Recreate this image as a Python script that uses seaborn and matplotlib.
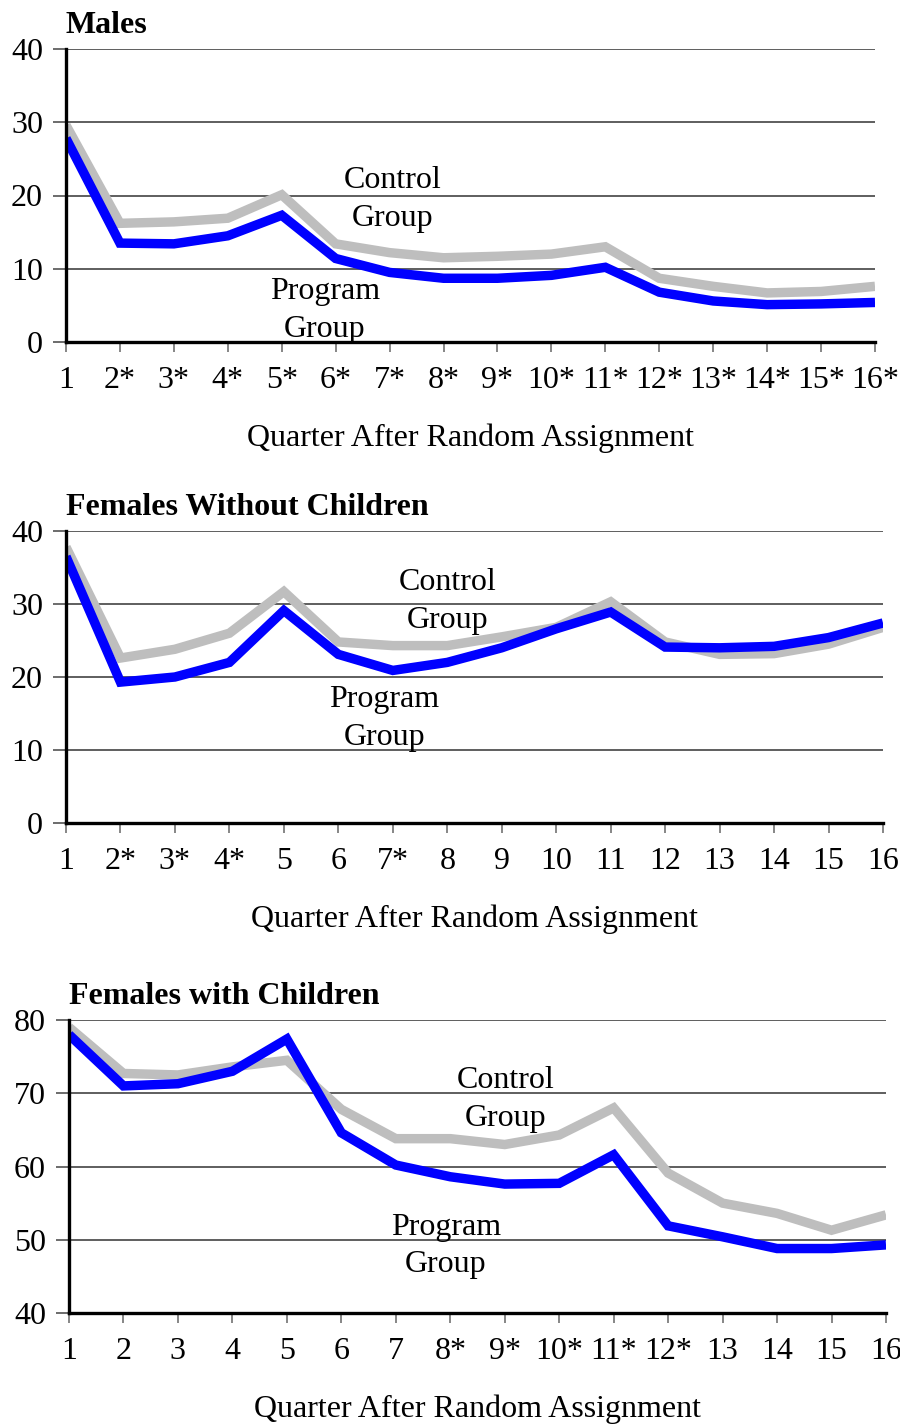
import matplotlib
matplotlib.use("Agg")
import matplotlib.pyplot as plt
import seaborn as sns
import pandas as pd

sns.set_style("white")
plt.rcParams["font.family"] = ["Liberation Serif", "DejaVu Serif"]
plt.rcParams["text.color"] = "black"
plt.rcParams["axes.labelcolor"] = "black"
plt.rcParams["xtick.color"] = "black"
plt.rcParams["ytick.color"] = "black"

quarters = list(range(1, 17))

# Males
males_labels = ["1", "2*", "3*", "4*", "5*", "6*", "7*", "8*", "9*", "10*",
                "11*", "12*", "13*", "14*", "15*", "16*"]
males_control = [29.6, 16.2, 16.4, 16.9, 20.1, 13.4, 12.2, 11.5, 11.7, 12.0,
                 13.0, 8.7, 7.6, 6.7, 6.9, 7.6]
males_program = [27.8, 13.5, 13.4, 14.5, 17.3, 11.4, 9.5, 8.7, 8.7, 9.1,
                 10.2, 6.8, 5.6, 5.1, 5.2, 5.4]

# Females without children
fwoc_labels = ["1", "2*", "3*", "4*", "5", "6", "7*", "8", "9", "10",
               "11", "12", "13", "14", "15", "16"]
fwoc_control = [37.8, 22.6, 23.8, 26.0, 31.7, 24.8, 24.3, 24.3, 25.5, 26.8,
                30.3, 24.8, 23.1, 23.2, 24.5, 26.8]
fwoc_program = [36.5, 19.3, 20.0, 22.0, 29.1, 23.1, 20.9, 22.0, 24.0, 26.6,
                28.9, 24.1, 24.0, 24.2, 25.4, 27.4]

# Females with children
fwc_labels = ["1", "2", "3", "4", "5", "6", "7", "8*", "9*", "10*",
              "11*", "12*", "13", "14", "15", "16"]
fwc_control = [79.0, 72.7, 72.5, 73.6, 74.5, 67.8, 63.8, 63.8, 63.0, 64.3,
               68.0, 59.1, 55.0, 53.6, 51.3, 53.4]
fwc_program = [78.0, 71.0, 71.3, 73.0, 77.4, 64.6, 60.2, 58.6, 57.6, 57.7,
               61.6, 51.9, 50.4, 48.8, 48.8, 49.3]

titles = ["Males", "Females Without Children", "Females with Children"]
xlabel = "Quarter After Random Assignment"
group_names = ["Control\nGroup", "Program\nGroup"]

panels = [
    dict(title=titles[0], labels=males_labels, control=males_control,
         program=males_program, ylim=(0, 40),
         rect=[66 / 900, 1 - 342 / 1425, 809 / 900, 293 / 1425],
         ctl_pos=(7.06, 19.5), prg_pos=(5.8, 4.3)),
    dict(title=titles[1], labels=fwoc_labels, control=fwoc_control,
         program=fwoc_program, ylim=(0, 40),
         rect=[66 / 900, 1 - 823 / 1425, 817 / 900, 292 / 1425],
         ctl_pos=(8.01, 30.3), prg_pos=(6.84, 14.3)),
    dict(title=titles[2], labels=fwc_labels, control=fwc_control,
         program=fwc_program, ylim=(40, 80),
         rect=[69 / 900, 1 - 1313 / 1425, 817 / 900, 293 / 1425],
         ctl_pos=(9.02, 69.1), prg_pos=(7.92, 49.15)),
]

fig = plt.figure(figsize=(9, 14.25), dpi=100)

FS = 23
for p in panels:
    ax = fig.add_axes(p["rect"])
    df = pd.DataFrame({
        "quarter": quarters * 2,
        "value": p["control"] + p["program"],
        "group": ["Control"] * 16 + ["Program"] * 16,
    })
    sns.lineplot(data=df[df.group == "Control"], x="quarter", y="value",
                 color="#bebebe", lw=6.8, ax=ax, legend=False,
                 solid_joinstyle="miter", solid_capstyle="butt")
    sns.lineplot(data=df[df.group == "Program"], x="quarter", y="value",
                 color="#0000ff", lw=6.8, ax=ax, legend=False,
                 solid_joinstyle="miter", solid_capstyle="butt")

    lo, hi = p["ylim"]
    ax.set_xlim(1, 16)
    ax.set_ylim(lo, hi)
    ax.set_yticks(list(range(lo, hi + 1, 10)))
    ax.set_xticks(quarters)
    ax.set_xticklabels(p["labels"])
    ax.set_xlabel("")
    ax.set_ylabel("")

    ax.set_axisbelow(True)
    ax.yaxis.grid(True, color="#333333", lw=1.1)
    ax.xaxis.grid(False)
    for s in ("top", "right"):
        ax.spines[s].set_visible(False)
    for s in ("left", "bottom"):
        ax.spines[s].set_color("black")
        ax.spines[s].set_linewidth(2.4)

    ax.tick_params(axis="y", which="major", left=True, length=9.5, width=1.1,
                   color="#444444", pad=7, labelsize=FS, labelcolor="black")
    ax.tick_params(axis="x", which="major", bottom=True, length=7.5, width=1.1,
                   color="#666666", pad=10, labelsize=FS, labelcolor="black")

    ax.annotate(p["title"], xy=(0, 1), xycoords="axes fraction",
                xytext=(0, 17), textcoords="offset points",
                ha="left", va="center", fontsize=FS, fontweight="bold")
    ax.annotate(xlabel, xy=(0.5, 0), xycoords="axes fraction",
                xytext=(0, -69.5), textcoords="offset points",
                ha="center", va="center", fontsize=FS)

    ax.text(*p["ctl_pos"], group_names[0], ha="center", va="center",
            fontsize=FS, linespacing=1.4, multialignment="center")
    ax.text(*p["prg_pos"], group_names[1], ha="center", va="center",
            fontsize=FS, linespacing=1.4, multialignment="center")

fig.savefig("out.png", dpi=100)
